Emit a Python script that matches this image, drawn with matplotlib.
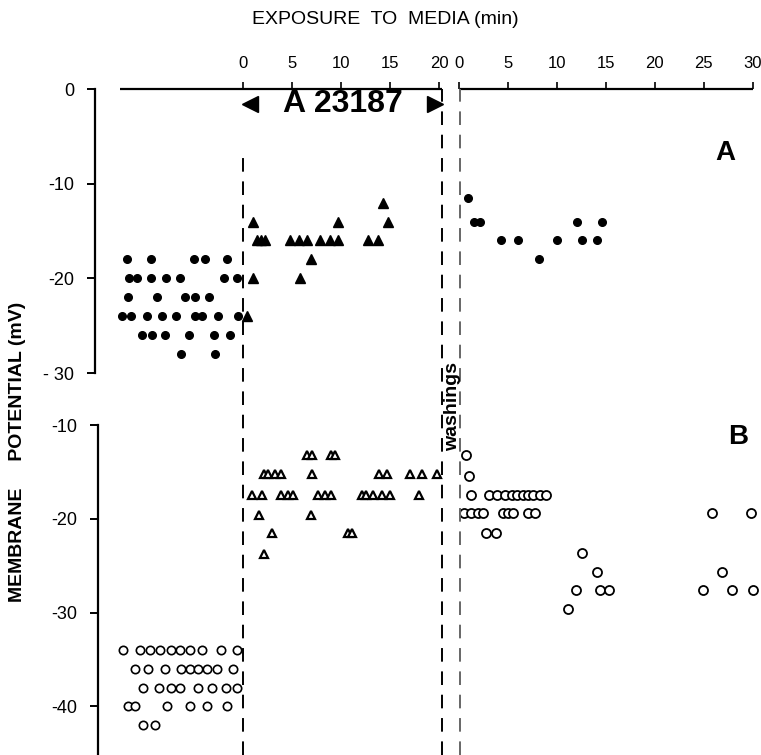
import matplotlib
matplotlib.use("Agg")
import matplotlib.pyplot as plt
import matplotlib.transforms as mtransforms
from matplotlib.lines import Line2D

plt.rcParams["font.family"] = ["Liberation Sans", "DejaVu Sans"]
plt.rcParams["axes.unicode_minus"] = False

# --- data (time in min, membrane potential in mV) ---
# panel A, control (filled circles, before A23187)
a_ctrl_t = [-11.8, -9.4, -5.0, -3.9, -1.6,
            -11.6, -10.8, -9.4, -7.9, -6.4, -1.9, -0.6,
            -11.7, -8.8, -5.9, -4.9, -3.5,
            -12.3, -11.4, -9.8, -8.3, -6.8, -4.9, -4.2, -2.5, -0.5,
            -10.3, -9.3, -8.0, -5.5, -3.0, -1.3,
            -6.3, -2.9]
a_ctrl_mv = [-18] * 5 + [-20] * 7 + [-22] * 5 + [-24] * 9 + [-26] * 6 + [-28] * 2

# panel A, during A23187 (filled triangles)
a_exp_t = [1.0, 9.7, 14.3, 14.8,
           1.4, 1.8, 2.2, 4.8, 5.7, 6.5, 7.9, 8.9, 9.7, 12.8, 13.8,
           6.9, 1.0, 5.8, 0.4]
a_exp_mv = [-14, -14, -12, -14] + [-16] * 11 + [-18, -20, -20, -24]

# panel A, after washings (filled circles)
a_wash_t = [1.0, 1.6, 2.2, 12.1, 14.6, 4.3, 6.1, 10.0, 12.6, 14.1, 8.2]
a_wash_mv = [-11.5, -14, -14, -14, -14, -16, -16, -16, -16, -16, -18]

# panel B, control (open circles)
b_ctrl_t = [-12.2, -10.5, -9.5, -8.5, -7.3, -6.4, -5.4, -4.2, -2.2, -0.6,
            -11.0, -9.7, -8.0, -6.3, -5.4, -4.6, -3.7, -2.7, -1.0,
            -10.2, -8.6, -7.3, -6.4, -4.6, -3.2, -1.7, -0.6,
            -11.7, -11.0, -7.8, -5.4, -3.7, -1.6,
            -10.2, -9.0]
b_ctrl_mv = [-34] * 10 + [-36] * 9 + [-38] * 8 + [-40] * 6 + [-42] * 2

# panel B, during A23187 (open triangles)
b_exp_t = [6.5, 7.0, 9.0, 9.4,
           2.1, 2.6, 3.3, 3.9, 7.0, 13.9, 14.7, 17.0, 18.3, 19.8,
           0.9, 1.9, 3.9, 4.6, 5.1, 7.7, 8.4, 9.0, 12.1, 12.6, 13.3, 14.2, 15.0, 18.0,
           1.6, 6.9,
           3.0, 10.7, 11.1,
           2.1]
b_exp_mv = ([-13.2] * 4 + [-15.2] * 10 + [-17.5] * 14 + [-19.6] * 2
            + [-21.5] * 3 + [-23.8])

# panel B, after washings (open circles)
b_wash_t = [0.8, 1.1,
            1.3, 3.1, 3.9, 4.7, 5.4, 6.0, 6.6, 7.1, 7.6, 8.3, 8.9,
            0.6, 1.3, 2.0, 2.5, 4.5, 5.0, 5.5, 7.1, 7.8, 25.9, 29.8,
            2.8, 3.8,
            12.6, 14.1, 26.9,
            12.0, 14.4, 15.3, 24.9, 27.9, 30.0,
            11.2]
b_wash_mv = ([-13.2, -15.4] + [-17.5] * 11 + [-19.4] * 11 + [-21.5] * 2
             + [-23.6] + [-25.7] * 2 + [-27.6] * 6 + [-29.6])

exp_ticks = [0, 5, 10, 15, 20]
wash_ticks = [0, 5, 10, 15, 20, 25, 30]
exp_end = 20.3      # A23187 removed
wash_offset = 22.0  # where the washout time axis starts

W, H = 761, 755
fig = plt.figure(figsize=(W / 100, H / 100), dpi=100)


def px_axes(left, top, right, bottom):
    return fig.add_axes([left / W, 1 - bottom / H, (right - left) / W, (bottom - top) / H])


axA = px_axes(95, 89, 760, 373)
axB = px_axes(95, 425, 760, 755)
xlim = (-15.1, 52.75)

for ax in (axA, axB):
    ax.set_xlim(*xlim)
    for s in ("top", "right", "bottom"):
        ax.spines[s].set_visible(False)
    ax.spines["left"].set_linewidth(1.6)
    ax.tick_params(axis="y", direction="out", length=6, width=1.4, pad=9, labelsize=13)
    ax.patch.set_alpha(0)
axB.spines["left"].set_position(("data", -14.75))

axA.set_ylim(-30, 0)
axA.set_yticks([0, -10, -20, -30])
axA.set_yticklabels(["0", "-10", "-20", "- 30"])
axB.set_ylim(-45.2, -10)
axB.set_yticks([-10, -20, -30, -40])
axB.set_yticklabels(["-10", "-20", "-30", "-40"])
axB.tick_params(axis="x", bottom=False, labelbottom=False)

# top time axis (two segments: exposure and washout)
wash_pos = [wash_offset + t for t in wash_ticks]
axA.xaxis.tick_top()
axA.set_xticks(exp_ticks + wash_pos)
axA.set_xticklabels([str(t) for t in exp_ticks] + [str(t) for t in wash_ticks])
axA.tick_params(axis="x", direction="out", length=5, width=1.2, pad=8, labelsize=12)
axA.hlines(0, -12.5, exp_end, color="black", lw=1.6, clip_on=False)
axA.hlines(0, wash_offset + 0.1, wash_offset + wash_ticks[-1], color="black", lw=1.6, clip_on=False)

# data
mk = dict(linestyle="none", clip_on=False)
axA.plot(a_ctrl_t, a_ctrl_mv, marker="o", ms=5.5, color="black", **mk)
axA.plot(a_exp_t, a_exp_mv, marker="^", ms=6.5, color="black", **mk)
axA.plot([wash_offset + t for t in a_wash_t], a_wash_mv, marker="o", ms=5.5, color="black", **mk)

axB.plot(b_ctrl_t, b_ctrl_mv, marker="o", ms=6, mfc="white", mec="black", mew=1.2, **mk)
axB.plot(b_exp_t, b_exp_mv, marker="^", ms=6, mfc="white", mec="black", mew=1.6, **mk)
axB.plot([wash_offset + t for t in b_wash_t], b_wash_mv, marker="o", ms=6.5,
         mfc="white", mec="black", mew=1.3, **mk)

# dashed vertical markers spanning both panels
tr = mtransforms.blended_transform_factory(axA.transData, fig.transFigure)
for x, ytop, col in [(0, 1 - 150 / H, "black"), (exp_end, 1 - 89 / H, "black"),
                     (wash_offset + 0.1, 1 - 89 / H, "#666666")]:
    fig.add_artist(Line2D([x, x], [0, ytop], transform=tr, color=col,
                          lw=1.4, linestyle=(0, (7, 5))))

# A23187 bar
axA.text((exp_ticks[0] + exp_end) / 2, -1.6, "A 23187", ha="center", va="center",
         fontsize=23, fontweight="bold")
axA.plot([0.7], [-1.6], marker="<", ms=12, color="black", clip_on=False)
axA.plot([exp_end - 0.7], [-1.6], marker=">", ms=12, color="black", clip_on=False)

# labels
fig.text(385 / W, 1 - 20 / H, "EXPOSURE  TO  MEDIA (min)", ha="center", va="center",
         fontsize=14)
fig.text(18 / W, 1 - 452 / H, "MEMBRANE     POTENTIAL (mV)", rotation=90,
         ha="center", va="center", fontsize=14, fontweight="bold")
fig.text(453 / W, 1 - 407 / H, "washings", rotation=90, ha="center", va="center",
         fontsize=14, fontweight="bold")
fig.text(725 / W, 1 - 153 / H, "A", ha="center", va="center", fontsize=20, fontweight="bold")
fig.text(738 / W, 1 - 437 / H, "B", ha="center", va="center", fontsize=20, fontweight="bold")

fig.savefig("out.png", dpi=100)
